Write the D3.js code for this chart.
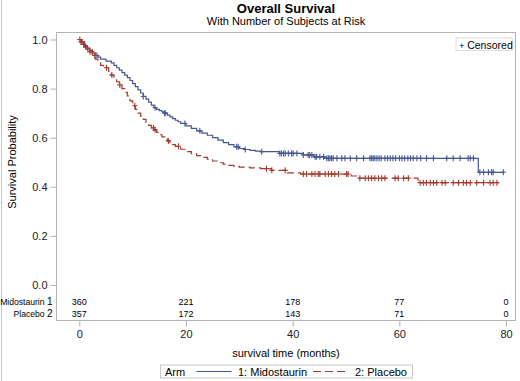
<!DOCTYPE html>
<html>
<head>
<meta charset="utf-8">
<script src="https://cdn.jsdelivr.net/npm/d3@7"></script>
<style>
  body { margin: 0; background: #fff; }
  svg { display: block; font-family: "Liberation Sans", Arial, sans-serif; }
</style>
</head>
<body>
<div class="kmChart"></div>
<script>
const WIDTH = 520;
const HEIGHT = 381;

// frame of the plot area (includes the at-risk rows)
const FRAME = { left: 56.5, right: 515.5, top: 32.5, bottom: 320.5 };

// Kaplan-Meier estimates: [months, survival]
var midoCurve = [
  [0, 1.0], [0.5, 0.99], [1, 0.975], [1.5, 0.965], [2, 0.955], [2.5, 0.945], [3, 0.935],
  [3.5, 0.928], [4, 0.92], [5, 0.912], [6, 0.905], [6.5, 0.895], [7, 0.885], [7.5, 0.875],
  [8, 0.865], [8.5, 0.855], [9, 0.845], [9.5, 0.833], [10, 0.82], [10.5, 0.808], [11, 0.795],
  [11.5, 0.782], [12, 0.768], [12.5, 0.757], [13, 0.745], [13.5, 0.733], [14, 0.722],
  [14.5, 0.715], [15, 0.71], [15.5, 0.705], [16, 0.70], [16.5, 0.692], [17, 0.685],
  [17.5, 0.678], [18, 0.671], [18.5, 0.665], [19, 0.658], [20, 0.648], [21, 0.638],
  [22, 0.628], [23, 0.619], [24, 0.61], [25, 0.60], [26, 0.59], [27, 0.58], [28, 0.572],
  [29, 0.563], [30, 0.556], [31, 0.552], [32, 0.548], [33, 0.545], [34, 0.543],
  [37.5, 0.536], [42, 0.53], [44, 0.522], [46, 0.516], [74.8, 0.459], [79.6, 0.459]
];
var placeboCurve = [
  [0, 1.0], [0.3, 0.99], [0.6, 0.98], [1, 0.97], [1.5, 0.96], [2, 0.95], [2.5, 0.935],
  [3, 0.92], [3.5, 0.905], [4, 0.895], [4.5, 0.89], [5, 0.885], [5.5, 0.87], [6, 0.855],
  [6.5, 0.84], [7, 0.828], [7.5, 0.815], [8, 0.80], [8.5, 0.785], [9, 0.77], [9.5, 0.75],
  [10, 0.73], [10.5, 0.715], [11, 0.70], [11.5, 0.688], [12, 0.675], [12.5, 0.662],
  [13, 0.65], [13.5, 0.64], [14, 0.632], [14.5, 0.622], [15, 0.612], [15.5, 0.603],
  [16, 0.595], [16.5, 0.587], [17, 0.58], [17.5, 0.572], [18, 0.565], [19, 0.553],
  [20, 0.543], [21, 0.535], [22, 0.527], [23, 0.52], [24, 0.513], [25, 0.505], [26, 0.498],
  [27, 0.492], [28, 0.487], [29, 0.483], [30, 0.48], [32, 0.477], [34, 0.474], [36, 0.467],
  [39, 0.457], [41.5, 0.452], [51, 0.444], [52, 0.435], [63.5, 0.417], [78.6, 0.417]
];

// censoring times (months)
var midoCensored = [3.3, 12, 14.2, 16, 16.1, 19.8, 22.6, 29.5, 29.8, 31.1, 34.2, 37.6, 37.9,
  38.3, 38.6, 39.2, 39.8, 40.1, 40.8, 42, 42.9, 43.2, 43.6, 44.2, 44.5, 45.1, 45.8, 46.4,
  46.7, 47, 47.3, 47.6, 48.3, 49.2, 49.8, 50.8, 52, 53.3, 54.5, 54.8, 55.1, 55.4, 55.8,
  56.2, 56.6, 57.3, 57.8, 58.3, 58.8, 59.3, 60, 60.5, 61, 61.6, 62.1, 62.6, 63.3, 64, 65.1,
  66.4, 68.9, 70.1, 71.4, 72.9, 73.3, 73.9, 75.1, 75.8, 76.7, 77.3, 77.6, 79.5];
var placeboCensored = [0.1, 0.3, 0.5, 0.8, 1.2, 1.6, 2.0, 2.4, 2.9, 5.1, 6.1, 7.6, 10.4,
  13.9, 14.2, 16.7, 18.6, 35.1, 36.1, 38.6, 42, 42.6, 43.6, 44.2, 44.8, 45.1, 46.1, 46.7,
  47.3, 47.9, 48.6, 50.1, 50.4, 52.6, 53.6, 54.2, 54.8, 55.4, 56.1, 56.7, 57.3, 59.2, 59.8,
  60.8, 61.7, 63.9, 64.5, 65.1, 65.8, 66.4, 67, 68, 68.6, 70.1, 71.1, 72, 72.6, 73.3, 74.5,
  75.8, 77, 77.6, 78.3];

// number of subjects at risk
var riskTimes = [0, 20, 40, 60, 80];
var midoRisk = [360, 221, 178, 77, 0];
var placeboRisk = [357, 172, 143, 71, 0];

var xTicks = [0, 20, 40, 60, 80];
var yTicks = [0, 0.2, 0.4, 0.6, 0.8, 1.0];

var arms = [
  { label: 'Midostaurin', id: '1', legend: '1: Midostaurin', curve: midoCurve, censored: midoCensored, risk: midoRisk, color: '#445694', dash: null },
  { label: 'Placebo', id: '2', legend: '2: Placebo', curve: placeboCurve, censored: placeboCensored, risk: placeboRisk, color: '#A23A2E', dash: '7,4' }
];

var xScale = d3.scaleLinear().domain([0, 80]).range([79.3, 506]);
var yScale = d3.scaleLinear().domain([0, 1]).range([285, 39.5]);

var svg = d3.select('.kmChart').append('svg')
  .attr('width', WIDTH)
  .attr('height', HEIGHT);

// outer left edge of the graph border
svg.append('line')
  .attr('x1', 1.5).attr('x2', 1.5).attr('y1', 0).attr('y2', HEIGHT)
  .attr('stroke', '#c8c8c8');

// titles
var plotCenter = (FRAME.left + FRAME.right) / 2;
svg.append('text')
  .attr('x', plotCenter).attr('y', 12.5)
  .attr('text-anchor', 'middle')
  .style('font-weight', 'bold').style('font-size', '13px')
  .text('Overall Survival');
svg.append('text')
  .attr('x', plotCenter).attr('y', 25)
  .attr('text-anchor', 'middle')
  .style('font-size', '11px')
  .text('With Number of Subjects at Risk');

// frame
svg.append('rect')
  .attr('x', FRAME.left).attr('y', FRAME.top)
  .attr('width', FRAME.right - FRAME.left).attr('height', FRAME.bottom - FRAME.top)
  .attr('fill', 'none').attr('stroke', '#b4b4b4');

// y axis
var yAxis = d3.axisLeft(yScale).tickValues(yTicks).tickFormat(d3.format('.1f')).tickSize(6).tickPadding(3);
var yAxisG = svg.append('g').attr('transform', 'translate(' + FRAME.left + ',0)').call(yAxis);
yAxisG.select('.domain').remove();
yAxisG.selectAll('line').attr('stroke', '#b4b4b4');
yAxisG.selectAll('text').style('font-size', '11px').attr('fill', '#222')
  .style('font-family', '"Liberation Sans", Arial, sans-serif');

svg.append('text')
  .attr('transform', 'translate(16,162) rotate(-90)')
  .attr('text-anchor', 'middle')
  .style('font-size', '11px')
  .text('Survival Probability');

// x axis
var xAxis = d3.axisBottom(xScale).tickValues(xTicks).tickSize(6).tickPadding(4);
var xAxisG = svg.append('g').attr('transform', 'translate(0,' + FRAME.bottom + ')').call(xAxis);
xAxisG.select('.domain').remove();
xAxisG.selectAll('line').attr('stroke', '#b4b4b4');
xAxisG.selectAll('text').style('font-size', '11px').attr('fill', '#222')
  .style('font-family', '"Liberation Sans", Arial, sans-serif');

svg.append('text')
  .attr('x', plotCenter).attr('y', 357)
  .attr('text-anchor', 'middle')
  .style('font-size', '11px')
  .text('survival time (months)');

// survival curves
var kmLine = d3.line()
  .x(function (d) { return xScale(d[0]); })
  .y(function (d) { return yScale(d[1]); })
  .curve(d3.curveStepAfter);

var timeBisect = d3.bisector(function (d) { return d[0]; }).right;
function survivalAt(curve, t) {
  var i = timeBisect(curve, t) - 1;
  return curve[Math.max(0, i)][1];
}

arms.forEach(function (arm) {
  var g = svg.append('g');
  g.append('path')
    .attr('d', kmLine(arm.curve))
    .attr('fill', 'none')
    .attr('stroke', arm.color)
    .attr('stroke-width', 1.2)
    .attr('stroke-dasharray', arm.dash);
  g.selectAll('path.censor').data(arm.censored).enter().append('path')
    .attr('class', 'censor')
    .attr('transform', function (t) {
      return 'translate(' + xScale(t) + ',' + yScale(survivalAt(arm.curve, t)) + ')';
    })
    .attr('d', 'M-2.5,0H2.5M0,-3V3')
    .attr('stroke', arm.color)
    .attr('stroke-width', 1.1);
});

// at-risk table
var riskRows = [305, 317];
arms.forEach(function (arm, i) {
  var label = svg.append('text')
    .attr('x', 52.5).attr('y', riskRows[i])
    .attr('text-anchor', 'end')
    .style('font-size', '8.6px');
  label.append('tspan').text(arm.label + ' ');
  label.append('tspan').style('font-size', '10px').text(arm.id);
  svg.append('g').selectAll('text').data(arm.risk).enter().append('text')
    .attr('x', function (d, j) { return xScale(riskTimes[j]); })
    .attr('y', riskRows[i])
    .attr('text-anchor', 'middle')
    .style('font-size', '9px')
    .text(function (d) { return d; });
});

// censored legend (inside the plot)
var cens = svg.append('g').attr('transform', 'translate(456,38)');
cens.append('rect').attr('width', 56).attr('height', 12.5)
  .attr('fill', '#fff').attr('stroke', '#dcdcdc');
var censText = cens.append('text').attr('x', 3).attr('y', 10.5)
  .style('font-size', '10.5px');
censText.append('tspan').style('font-size', '9.5px').text('+ ');
censText.append('tspan').text('Censored');

// arm legend
var leg = svg.append('g').attr('transform', 'translate(160.5,365)');
leg.append('rect').attr('width', 252).attr('height', 13)
  .attr('fill', '#fff').attr('stroke', '#c8c8c8');
leg.append('text').attr('x', 4.5).attr('y', 10.5).style('font-size', '11px').text('Arm');
var legItems = [{ x1: 36, x2: 71, tx: 77.5 }, { x1: 152.5, x2: 184.5, tx: 194.5 }];
arms.forEach(function (arm, i) {
  var it = legItems[i];
  leg.append('line')
    .attr('x1', it.x1).attr('x2', it.x2).attr('y1', 6.5).attr('y2', 6.5)
    .attr('stroke', arm.color).attr('stroke-width', 1)
    .attr('stroke-dasharray', arm.dash ? '8,4' : null);
  leg.append('text').attr('x', it.tx).attr('y', 10.5)
    .style('font-size', '11px').text(arm.legend);
});
</script>
</body>
</html>
